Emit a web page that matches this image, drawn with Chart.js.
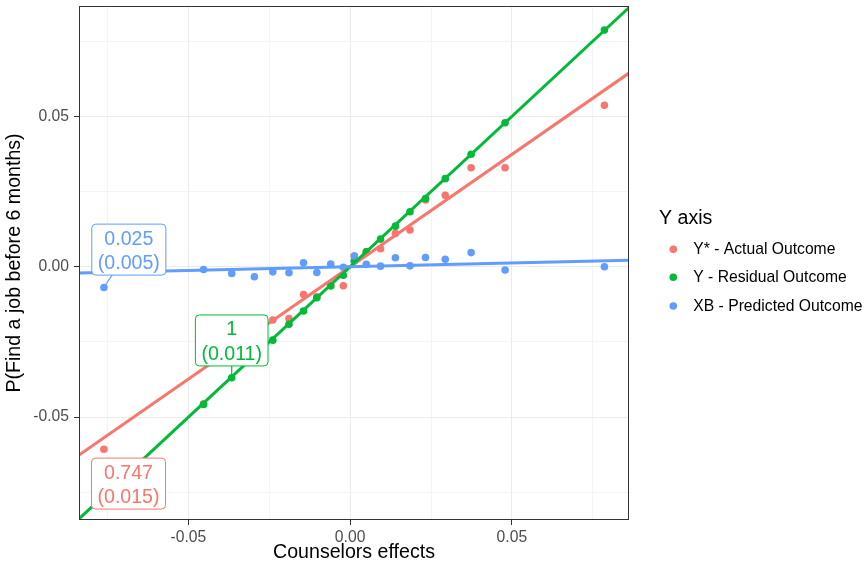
<!DOCTYPE html>
<html>
<head>
<meta charset="utf-8">
<script src="https://cdn.jsdelivr.net/npm/chart.js@4"></script>
<style>
  body { margin: 0; background: #fff; }
</style>
</head>
<body>
<canvas id="chart" width="866" height="564"></canvas>
<script>
// Counselor effect bins (x) and the three outcomes (y)
const counselorEffects = [-0.0761, -0.0453, -0.0366, -0.0296, -0.0239, -0.0189, -0.0144, -0.0103, -0.0060, -0.0021,
                          0.0013, 0.0050, 0.0094, 0.0140, 0.0185, 0.0233, 0.0294, 0.0374, 0.0479, 0.0786];
const actualOutcome = [-0.0607, -0.0456, -0.0272, -0.0222, -0.0177, -0.0172, -0.0092, -0.0100, -0.0062, -0.0063,
                       0.0036, 0.0050, 0.0060, 0.0111, 0.0122, 0.0222, 0.0238, 0.0329, 0.0329, 0.0537];
const residualOutcome = [-0.0761, -0.0458, -0.0369, -0.0296, -0.0244, -0.0191, -0.0147, -0.0103, -0.0064, -0.0028,
                         0.0019, 0.0050, 0.0092, 0.0135, 0.0183, 0.0227, 0.0293, 0.0374, 0.0479, 0.0787];
const predictedOutcome = [-0.0069, -0.0009, -0.0022, -0.0033, -0.0017, -0.0020, 0.0013, -0.0019, 0.0009, -0.0002,
                          0.0036, 0.0008, 0.0002, 0.0030, 0.0003, 0.0031, 0.0025, 0.0047, -0.0011, 0.0000];

const seriesNames = ['Y* - Actual Outcome', 'Y - Residual Outcome', 'XB - Predicted Outcome'];
const seriesColors = ['#F8766D', '#00BA38', '#619CFF'];
const seriesValues = [actualOutcome, residualOutcome, predictedOutcome];
const slopes = [0.747, 1, 0.025];
const slopeErrors = [0.015, 0.011, 0.005];
const tickValues = [-0.075, -0.05, -0.025, 0, 0.025, 0.05, 0.075];

const xMin = -0.0838, xMax = 0.0862;
const yMin = -0.0842, yMax = 0.0867;
const FONT = '"Liberation Sans", Arial, sans-serif';
const TITLE_SIZE = 19.6, TEXT_SIZE = 15.7;

// where the coefficient labels sit (data units)
const labelSpots = [
  { x: -0.0685, y: -0.0721, point: 0, segment: false },
  { x: -0.0366, y: -0.0245, point: 2, segment: true },
  { x: -0.0684, y: 0.0057, point: 0, segment: true }
];

const isMajor = v => Math.abs(Math.round(v / 0.05) * 0.05 - v) < 1e-9;

const pointSets = seriesValues.map((vals, i) => ({
  label: seriesNames[i],
  data: counselorEffects.map((x, k) => ({ x: x, y: vals[k] })),
  backgroundColor: seriesColors[i],
  borderWidth: 0,
  pointRadius: 3.8,
  order: 6 - i,
  clip: 0
}));

const fitLines = slopes.map((b, i) => ({
  label: seriesNames[i] + ' fit',
  data: [{ x: xMin, y: b * xMin }, { x: xMax, y: b * xMax }],
  showLine: true,
  borderColor: seriesColors[i],
  borderWidth: 3,
  pointRadius: 0,
  order: 3 - i,
  clip: 0
}));

const decorations = {
  id: 'decorations',
  afterDatasetsDraw(chart) {
    const { ctx, chartArea: a, scales: { x, y } } = chart;
    ctx.save();
    ctx.beginPath();
    ctx.rect(a.left, a.top, a.width, a.height);
    ctx.clip();
    labelSpots.forEach((spot, i) => {
      const cx = x.getPixelForValue(spot.x), cy = y.getPixelForValue(spot.y);
      const lines = [String(slopes[i]), '(' + slopeErrors[i].toFixed(3) + ')'];
      ctx.font = TITLE_SIZE + 'px ' + FONT;
      const tw = Math.max(...lines.map(t => ctx.measureText(t).width));
      const bw = tw + 12, bh = 51;
      if (spot.segment) {
        const px = x.getPixelForValue(counselorEffects[spot.point]);
        const py = y.getPixelForValue(seriesValues[i][spot.point]);
        ctx.strokeStyle = seriesColors[i];
        ctx.lineWidth = 1.2;
        ctx.beginPath();
        ctx.moveTo(px, py);
        ctx.lineTo(cx, cy);
        ctx.stroke();
      }
      ctx.beginPath();
      ctx.roundRect(cx - bw / 2, cy - bh / 2, bw, bh, 4);
      ctx.fillStyle = '#fff';
      ctx.fill();
      ctx.strokeStyle = seriesColors[i];
      ctx.lineWidth = 1;
      ctx.stroke();
      ctx.fillStyle = seriesColors[i];
      ctx.textAlign = 'center';
      ctx.textBaseline = 'middle';
      ctx.fillText(lines[0], cx, cy - 10.5);
      ctx.fillText(lines[1], cx, cy + 14);
    });
    ctx.restore();

    // panel border
    ctx.save();
    ctx.strokeStyle = '#333333';
    ctx.lineWidth = 1;
    ctx.strokeRect(a.left + 0.5, a.top + 0.5, a.width - 1, a.height - 1);
    ctx.restore();
  },
  afterDraw(chart) {
    const ctx = chart.ctx;
    ctx.save();
    ctx.textBaseline = 'middle';
    ctx.textAlign = 'left';
    ctx.fillStyle = '#000';
    ctx.font = TITLE_SIZE + 'px ' + FONT;
    ctx.fillText('Y axis', 659, 219);
    const rows = [249.3, 277.3, 306];
    seriesNames.forEach((name, i) => {
      ctx.fillStyle = seriesColors[i];
      ctx.beginPath();
      ctx.arc(673.3, rows[i], 3.8, 0, Math.PI * 2);
      ctx.fill();
      ctx.fillStyle = '#000';
      ctx.font = TEXT_SIZE + 'px ' + FONT;
      ctx.fillText(name, 693.3, rows[i] + 0.5);
    });
    ctx.restore();
  }
};

function axisOptions(min, max, title, fitSize, titlePadding, tickPadding) {
  return {
    type: 'linear',
    min: min,
    max: max,
    afterBuildTicks: s => { s.ticks = tickValues.map(v => ({ value: v })); },
    afterFit: s => {
      if (s.isHorizontal()) s.height = fitSize; else s.width = fitSize;
      s.paddingTop = 0; s.paddingBottom = 0; s.paddingLeft = 0; s.paddingRight = 0;
    },
    border: { display: false },
    grid: {
      color: c => isMajor(c.tick.value) ? '#ebebeb' : '#f4f4f4',
      lineWidth: 1,
      tickLength: 5,
      tickColor: c => isMajor(c.tick.value) ? '#333333' : 'rgba(0,0,0,0)'
    },
    ticks: {
      color: '#4d4d4d',
      font: { family: FONT, size: TEXT_SIZE },
      padding: tickPadding,
      maxRotation: 0,
      autoSkip: false,
      callback: v => isMajor(v) ? v.toFixed(2) : ''
    },
    title: {
      display: true,
      text: title,
      color: '#000',
      font: { family: FONT, size: TITLE_SIZE },
      padding: titlePadding
    }
  };
}

new Chart(document.getElementById('chart'), {
  type: 'scatter',
  data: { datasets: [...fitLines, ...pointSets] },
  options: {
    responsive: false,
    animation: false,
    layout: { padding: { left: 0, right: 237, top: 6, bottom: 0 } },
    plugins: { legend: { display: false }, tooltip: { enabled: false } },
    scales: {
      x: axisOptions(xMin, xMax, 'Counselors effects', 44, { top: 0, bottom: 0 }, 3),
      y: axisOptions(yMin, yMax, 'P(Find a job before 6 months)', 79, { top: 3, bottom: 0 }, 5)
    }
  },
  plugins: [decorations]
});
</script>
</body>
</html>
